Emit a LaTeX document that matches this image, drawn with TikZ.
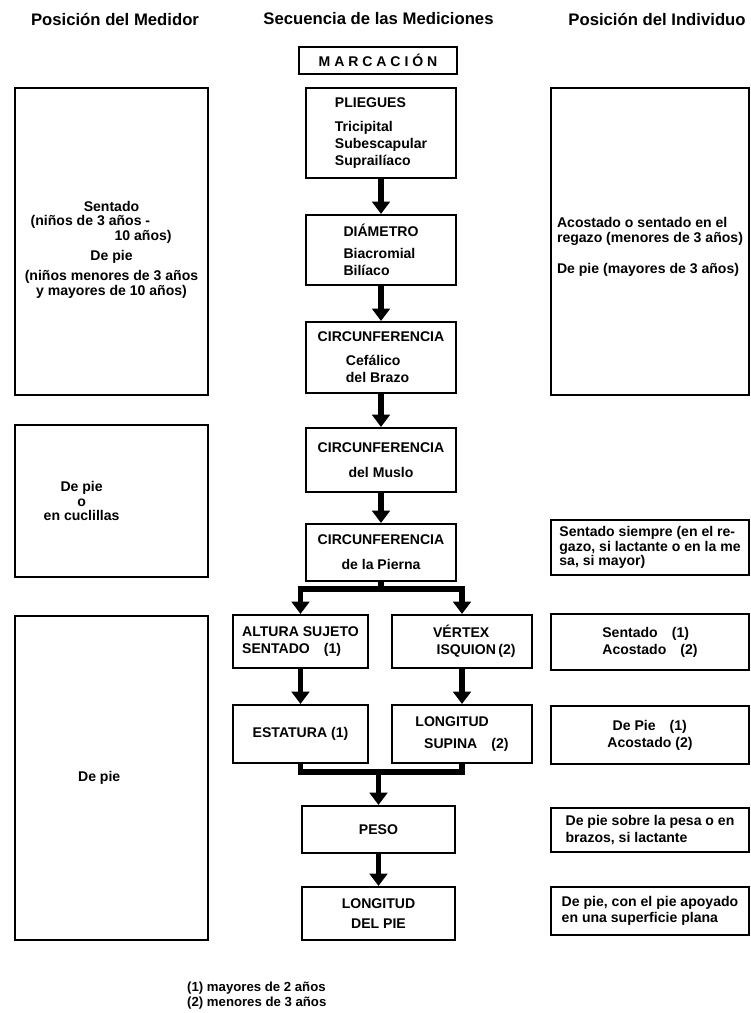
\documentclass[tikz,border=0pt]{standalone}
\usepackage{fontspec}
\setmainfont{Liberation Sans}
\usetikzlibrary{arrows.meta}
\tikzset{
  caja/.style={draw, line width=1.2pt, inner sep=2pt, font=\bfseries\fontsize{8}{9.6}\selectfont},
  lado/.style={caja, font=\bfseries\fontsize{8}{8.4}\selectfont},
  titulo/.style={font=\bfseries\fontsize{9.5}{11}\selectfont},
  flecha/.style={line width=3.4pt, -{Triangle[width=10pt,length=7pt]}},
  barra/.style={line width=3.4pt, line join=miter}
}

\begin{document}
\begin{tikzpicture}
        \useasboundingbox (0,0) rectangle (15.02,-20.26);
        \node[titulo] (hmed) at (2.30,-0.38) {Posición del Medidor};
        \node[titulo] (hsec) at (7.57,-0.38) {Secuencia de las Mediciones};
        \node[titulo] (hind) at (13.14,-0.38) {Posición del Individuo};

        \node[caja, minimum width=3.16cm, minimum height=0.54cm] (marc) at (7.56,-1.21) {M A R C A C I Ó N};
        \node[caja, align=left, minimum width=3cm, minimum height=1.8cm] (plie) at (7.62,-2.66)
            {PLIEGUES\\[4pt]Tricipital\\Subescapular\\Suprailíaco};
        \node[caja, align=left, minimum width=3cm, minimum height=1.4cm] (diam) at (7.62,-5.0)
            {DIÁMETRO\\[3pt]Biacromial\\Bilíaco};
        \node[caja, align=left, minimum width=3cm, minimum height=1.42cm] (circ1) at (7.62,-7.15)
            {CIRCUNFERENCIA\\[4pt]\hspace*{16pt}Cefálico\\\hspace*{16pt}del Brazo};
        \node[caja, align=center, minimum width=3cm, minimum height=1.28cm] (circ2) at (7.62,-9.2)
            {CIRCUNFERENCIA\\[4.5pt]del Muslo};
        \node[caja, align=center, minimum width=3cm, minimum height=1.14cm] (circ3) at (7.62,-11.05)
            {CIRCUNFERENCIA\\[4.5pt]de la Pierna};
        \coordinate (split) at (7.62,-11.78);

        \node[caja, align=left, minimum width=2.7cm, minimum height=1.06cm] (alt) at (6.01,-12.83)
            {ALTURA SUJETO\\SENTADO\quad(1)};
        \node[caja, align=left, minimum width=2.8cm, minimum height=1.06cm] (vert) at (9.24,-12.83)
            {\hspace*{14pt}VÉRTEX\\\hspace*{16pt}ISQUION\,(2)};
        \node[caja, minimum width=2.7cm, minimum height=1.16cm] (est) at (6.01,-14.68) {ESTATURA (1)};
        \node[caja, align=left, minimum width=2.8cm, minimum height=1.16cm] (lsup) at (9.24,-14.68)
            {LONGITUD\\[3pt]\hspace*{5pt}SUPINA\quad(2)};
        \coordinate (merge) at (7.57,-15.44);

        \node[caja, minimum width=3.06cm, minimum height=0.94cm] (peso) at (7.57,-16.59) {PESO};
        \node[caja, align=center, minimum width=3.06cm, minimum height=1.06cm] (lpie) at (7.57,-18.27)
            {LONGITUD\\[2pt]DEL PIE};

        \node[lado, align=center, minimum width=3.86cm, minimum height=6.14cm] (lb1) at (2.23,-4.83)
            {\rule{0pt}{15pt}Sentado\\(niños de 3 años -\rule{24pt}{0pt}\\\rule{36pt}{0pt}10 años)\\[3pt]De pie\\[3pt](niños menores de 3 años\\y mayores de 10 años)};
        \node[lado, align=center, minimum width=3.86cm, minimum height=3.04cm] (lb2) at (2.23,-10.02)
            {De pie\rule{34pt}{0pt}\\o\rule{34pt}{0pt}\\en cuclillas\rule{34pt}{0pt}};
        \node[lado, minimum width=3.86cm, minimum height=6.48cm] (lb3) at (2.23,-15.56) {De pie\rule{14pt}{0pt}};

        \node[lado, align=left, minimum width=3.96cm, minimum height=6.14cm] (rb1) at (13.0,-4.83)
            {\rule{0pt}{12pt}Acostado o sentado en el\\regazo (menores de 3 años)\\[9pt]De pie (mayores de 3 años)};
        \node[lado, align=left, minimum width=3.96cm, minimum height=1.1cm] (rb2) at (13.0,-10.95)
            {Sentado siempre (en el re-\\gazo, si lactante o en la me\\sa, si mayor)};
        \node[caja, align=left, minimum width=3.96cm, minimum height=1.12cm] (rb3) at (13.0,-12.84)
            {Sentado\quad(1)\\Acostado\quad(2)};
        \node[caja, align=left, minimum width=3.96cm, minimum height=1.16cm] (rb4) at (13.0,-14.70)
            {\hspace*{3pt}De Pie\quad(1)\\Acostado (2)};
        \node[lado, align=left, minimum width=3.96cm, minimum height=0.88cm, font=\bfseries\fontsize{8}{9.6}\selectfont] (rb5) at (13.0,-16.6)
            {De pie sobre la pesa o en\\brazos, si lactante};
        \node[lado, align=left, minimum width=3.96cm, minimum height=0.96cm, font=\bfseries\fontsize{8}{9.4}\selectfont] (rb6) at (13.0,-18.22)
            {De pie, con el pie apoyado\\en una superficie plana};

        \foreach \a/\b in {plie/diam,diam/circ1,circ1/circ2,circ2/circ3,alt/est,vert/lsup,peso/lpie}{
            \draw[flecha] (\a) -- (\b);
        }
        \draw[barra] (circ3.south) -- (split);
        \draw[barra, {Triangle[width=10pt,length=7pt]}-{Triangle[width=10pt,length=7pt]}]
            (alt.north) -- (alt.north |- split) -- (vert.north |- split) -- (vert.north);
        \draw[barra] (est.south) -- (est.south |- merge) -- (lsup.south |- merge) -- (lsup.south);
        \draw[flecha] (merge) -- (peso.north);

        \node[anchor=north west, align=left, font=\bfseries\fontsize{7.5}{8.6}\selectfont] (notas) at (3.62,-19.52)
            {(1) mayores de 2 años\\(2) menores de 3 años};
\end{tikzpicture}
\end{document}
